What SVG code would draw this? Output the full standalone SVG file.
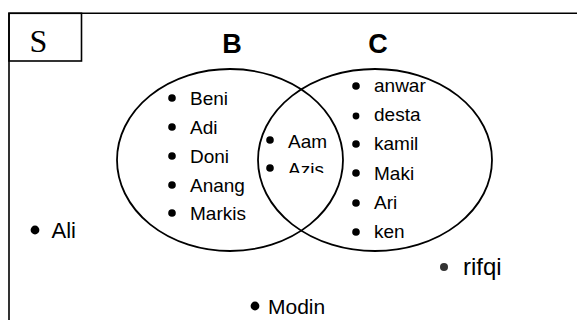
<svg xmlns="http://www.w3.org/2000/svg" width="577" height="320" viewBox="0 0 577 320">
  <style>
    .line { fill: none; stroke: #000; stroke-width: 1.6; }
    .set { fill: none; stroke: #000; stroke-width: 1.8; }
    .item { font-family: "Liberation Sans", Arial, sans-serif; font-size: 19px; fill: #000; }
    .big { font-family: "Liberation Sans", Arial, sans-serif; font-size: 22px; fill: #000; }
    .label { font-family: "Liberation Sans", Arial, sans-serif; font-size: 27px; font-weight: bold; fill: #000; text-anchor: middle; }
    .uni { font-family: "Liberation Serif", "Times New Roman", serif; font-size: 32px; fill: #000; text-anchor: middle; }
    .dot { fill: #000; }
  </style>
  <defs>
    <clipPath id="cut-azis">
      <rect x="0" y="0" width="577" height="173"/>
    </clipPath>
    <clipPath id="cut-anang">
      <rect x="0" y="0" width="246" height="320"/>
    </clipPath>
  </defs>
  <rect width="577" height="320" fill="#fff"/>

  <!-- universal set frame -->
  <g id="universe">
    <path class="line" d="M9,320 V13.3 H577"/>
    <rect class="line" x="9" y="13.3" width="72.5" height="47.7"/>
    <text class="uni" x="38.5" y="51.5">S</text>
  </g>

  <!-- set B -->
  <g id="set-B">
    <ellipse class="set" cx="230" cy="160" rx="113" ry="91"/>
    <text class="label" x="232" y="53">B</text>
    <circle class="dot" cx="172" cy="98" r="3.8"/><text class="item" x="190" y="105">Beni</text>
    <circle class="dot" cx="172" cy="127" r="3.8"/><text class="item" x="190" y="134">Adi</text>
    <circle class="dot" cx="172" cy="156" r="3.8"/><text class="item" x="190" y="163">Doni</text>
    <circle class="dot" cx="172" cy="185" r="3.8"/><text class="item" x="190" y="192" clip-path="url(#cut-anang)">Anang</text>
    <circle class="dot" cx="172" cy="213" r="3.8"/><text class="item" x="190" y="220">Markis</text>
  </g>

  <!-- set C -->
  <g id="set-C">
    <ellipse class="set" cx="375" cy="160" rx="117" ry="91"/>
    <text class="label" x="378" y="53">C</text>
    <circle class="dot" cx="356" cy="86" r="3.8"/><text class="item" x="374" y="92">anwar</text>
    <circle class="dot" cx="356" cy="116" r="3.4"/><text class="item" x="374" y="121">desta</text>
    <circle class="dot" cx="356" cy="144" r="3.8"/><text class="item" x="374" y="150">kamil</text>
    <circle class="dot" cx="356" cy="173" r="3.8"/><text class="item" x="374" y="179.5">Maki</text>
    <circle class="dot" cx="356" cy="203" r="3.8"/><text class="item" x="374" y="208.5">Ari</text>
    <circle class="dot" cx="356" cy="232" r="3.8"/><text class="item" x="374" y="237.5">ken</text>
  </g>

  <!-- B ∩ C -->
  <g id="intersection">
    <circle class="dot" cx="270" cy="140" r="3.8"/><text class="item" x="288" y="147.5">Aam</text>
    <circle class="dot" cx="270" cy="168" r="3.8"/>
    <text class="item" x="288" y="176" clip-path="url(#cut-azis)">Azis</text>
  </g>

  <!-- elements outside B and C -->
  <g id="ali">
    <circle class="dot" cx="35" cy="230" r="4.4"/><text class="big" x="51.5" y="238">Ali</text>
  </g>
  <g id="rifqi">
    <circle cx="444" cy="267" r="4" fill="#333"/><text class="big" x="463" y="275" style="font-size:24px">rifqi</text>
  </g>
  <g id="modin">
    <circle class="dot" cx="255" cy="306" r="4.4"/><text class="big" x="268" y="313.5" style="font-size:21px">Modin</text>
  </g>
</svg>
